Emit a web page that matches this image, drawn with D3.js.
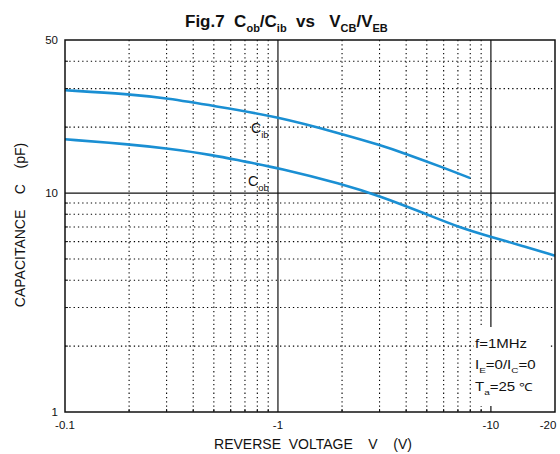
<!DOCTYPE html>
<html>
<head>
<meta charset="utf-8">
<script src="https://d3js.org/d3.v7.min.js"></script>
<style>
  body { margin: 0; background: #fff; }
  text { font-family: "Liberation Sans", Arial, sans-serif; fill: #111; }
</style>
</head>
<body>
<div id="chart"></div>
<script>
// values (reverse voltage in V, capacitance in pF)
const cibVolts = [0.1, 0.2, 0.3, 0.5, 1, 2, 3, 4, 6, 8];
const cibCap   = [29.5, 28.3, 27.1, 25.0, 22.3, 18.6, 16.6, 15.1, 13.05, 11.7];
const cobVolts = [0.1, 0.2, 0.3, 0.5, 0.7, 1, 2, 3, 5, 7, 10, 14, 20];
const cobCap   = [17.6, 16.7, 16.0, 14.9, 13.9, 13.05, 11.0, 9.7, 8.0, 7.0, 6.3, 5.75, 5.17];

const xTicks = [0.1, 1, 10, 20];
const xTickLabels = ["-0.1", "-1", "-10", "-20"];
const yTicks = [1, 10, 50];
const yTickLabels = ["1", "10", "50"];
const xMinor = [0.2,0.3,0.4,0.5,0.6,0.7,0.8,0.9, 2,3,4,5,6,7,8,9];
const yMinor = [2,3,4,5,6,7,8,9, 20,30,40];
const xMajor = [1, 10];
const yMajor = [10];

const width = 560, height = 454;
const margin = {top: 40, right: 5, bottom: 42, left: 65};

const svg = d3.select("#chart").append("svg")
  .attr("width", width).attr("height", height);

const x = d3.scaleLog().domain([0.1, 20]).range([margin.left, width - margin.right]);
const y = d3.scaleLog().domain([1, 50]).range([height - margin.bottom, margin.top]);

const blue = "#1a8fd3";

// dotted minor grid
svg.append("g").selectAll("line").data(xMinor).join("line")
  .attr("x1", d => x(d)).attr("x2", d => x(d))
  .attr("y1", y(50)).attr("y2", y(1))
  .attr("stroke", "#000").attr("stroke-width", 1.1)
  .attr("stroke-dasharray", "1.3,3");
svg.append("g").selectAll("line").data(yMinor).join("line")
  .attr("y1", d => y(d)).attr("y2", d => y(d))
  .attr("x1", x(0.1)).attr("x2", x(20))
  .attr("stroke", "#000").attr("stroke-width", 1.1)
  .attr("stroke-dasharray", "1.3,3");

// solid major grid
svg.append("g").selectAll("line").data(xMajor).join("line")
  .attr("x1", d => x(d)).attr("x2", d => x(d))
  .attr("y1", y(50)).attr("y2", y(1))
  .attr("stroke", "#111").attr("stroke-width", 1.2);
svg.append("g").selectAll("line").data(yMajor).join("line")
  .attr("y1", d => y(d)).attr("y2", d => y(d))
  .attr("x1", x(0.1)).attr("x2", x(20))
  .attr("stroke", "#111").attr("stroke-width", 1.2);

// curves
const line = d3.line().x(d => x(d[0])).y(d => y(d[1])).curve(d3.curveBasis);
svg.append("path").datum(d3.zip(cibVolts, cibCap))
  .attr("d", line).attr("fill", "none").attr("stroke", blue).attr("stroke-width", 2.6);
svg.append("path").datum(d3.zip(cobVolts, cobCap))
  .attr("d", line).attr("fill", "none").attr("stroke", blue).attr("stroke-width", 2.6);

// condition box
svg.append("rect").attr("x", 474).attr("y", 327).attr("width", 76).attr("height", 79).attr("fill", "#fff");

// frame
svg.append("rect")
  .attr("x", x(0.1)).attr("y", y(50))
  .attr("width", x(20) - x(0.1)).attr("height", y(1) - y(50))
  .attr("fill", "none").attr("stroke", "#111").attr("stroke-width", 1.5);

// inner ticks on bottom and left
svg.append("g").selectAll("line").data(xMinor).join("line")
  .attr("x1", d => x(d)).attr("x2", d => x(d))
  .attr("y1", y(1)).attr("y2", y(1) - 3).attr("stroke", "#111");
svg.append("g").selectAll("line").data(yMinor).join("line")
  .attr("y1", d => y(d)).attr("y2", d => y(d))
  .attr("x1", x(0.1)).attr("x2", x(0.1) + 3).attr("stroke", "#111");

// tick labels
svg.append("g").selectAll("text").data(xTicks).join("text")
  .attr("x", (d, i) => i === 3 ? x(d) - 7 : x(d))
  .attr("y", 429).attr("text-anchor", "middle").attr("font-size", 11.5)
  .text((d, i) => xTickLabels[i]);
svg.append("g").selectAll("text").data(yTicks).join("text")
  .attr("x", 58).attr("y", d => y(d) + 4).attr("text-anchor", "end").attr("font-size", 11.5)
  .text((d, i) => yTickLabels[i]);

// axis titles
svg.append("text").attr("x", 313).attr("y", 449).attr("text-anchor", "middle")
  .attr("font-size", 14).attr("xml:space", "preserve")
  .text("REVERSE  VOLTAGE    V    (V)");
svg.append("text").attr("transform", "translate(25,225) rotate(-90)")
  .attr("text-anchor", "middle").attr("font-size", 14).attr("xml:space", "preserve")
  .text("CAPACITANCE    C    (pF)");

// title with subscripts
const title = svg.append("text").attr("x", 185).attr("y", 27)
  .attr("font-size", 17).attr("font-weight", "bold").attr("xml:space", "preserve");
const titleParts = [["Fig.7  C", 0], ["ob", 1], ["/C", 0], ["ib", 1], ["  vs   V", 0], ["CB", 1], ["/V", 0], ["EB", 1]];
let sub = false;
titleParts.forEach(p => {
  const t = title.append("tspan").text(p[0]);
  if (p[1] && !sub) { t.attr("dy", 5).attr("font-size", 11); sub = true; }
  else if (!p[1] && sub) { t.attr("dy", -5); sub = false; }
  else if (p[1]) t.attr("font-size", 11);
});

// curve labels
function subLabel(px, py, main, s, size, subSize, dy) {
  const t = svg.append("text").attr("x", px).attr("y", py).attr("font-size", size);
  t.append("tspan").text(main);
  t.append("tspan").attr("dy", dy).attr("font-size", subSize).text(s);
  return t;
}
subLabel(251, 133, "C", "ib", 14, 9.5, 5);
subLabel(248, 186, "C", "ob", 14, 9.5, 5);

// conditions (wide type, as in the figure)
const cond = svg.append("g").attr("transform", "translate(475,0) scale(1.25,1)");
cond.append("text").attr("x", 0).attr("y", 348).attr("font-size", 12).text("f=1MHz");
const ie = cond.append("text").attr("x", 0).attr("y", 369).attr("font-size", 12);
ie.append("tspan").text("I");
ie.append("tspan").attr("dy", 4).attr("font-size", 8).text("E");
ie.append("tspan").attr("dy", -4).text("=0/I");
ie.append("tspan").attr("dy", 4).attr("font-size", 8).text("C");
ie.append("tspan").attr("dy", -4).text("=0");
const ta = cond.append("text").attr("x", 0).attr("y", 391).attr("font-size", 12).attr("xml:space", "preserve");
ta.append("tspan").text("T");
ta.append("tspan").attr("dy", 4).attr("font-size", 8).text("a");
ta.append("tspan").attr("dy", -4).text("=25 ");
ta.append("tspan").attr("font-size", 11).text("℃");
</script>
</body>
</html>
